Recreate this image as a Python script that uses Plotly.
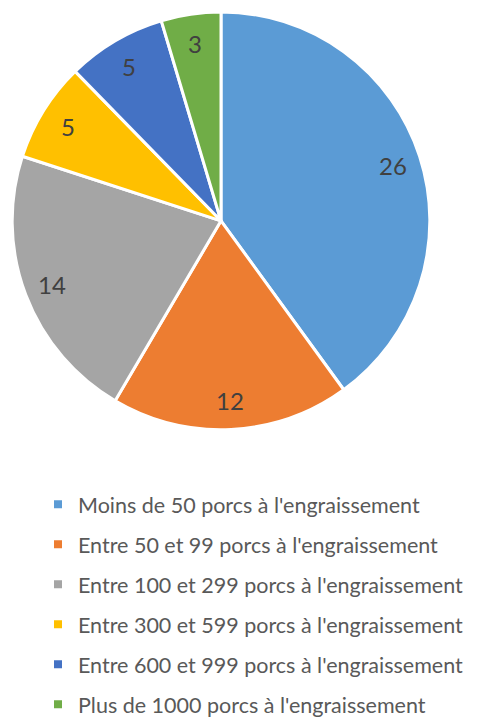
import math
import plotly.graph_objects as go

categories = [
    "Moins de 50 porcs à l'engraissement",
    "Entre 50 et 99 porcs à l'engraissement",
    "Entre 100 et 299 porcs à l'engraissement",
    "Entre 300 et 599 porcs à l'engraissement",
    "Entre 600 et 999 porcs à l'engraissement",
    "Plus de 1000 porcs à l'engraissement",
]
values = [26, 12, 14, 5, 5, 3]
colors = ["#5B9BD5", "#ED7D31", "#A5A5A5", "#FFC000", "#4472C4", "#70AD47"]

W, H = 478, 717
OFF = 8                  # the page body margin shifts the figure by 8px
FONT = "Lato"
LEG_SIZE = 21.5

# pie geometry in figure pixels
cx, cy, R = 221 - OFF, 222 - OFF, 210


def fx(px):
    return px / W


def fy(py):
    return 1 - py / H


fig = go.Figure()
fig.add_trace(go.Pie(
    labels=categories, values=values, sort=False, direction="clockwise", rotation=0,
    marker=dict(colors=colors, line=dict(color="white", width=3)),
    textinfo="none", hoverinfo="label+value", showlegend=False,
    domain=dict(x=[fx(cx - R), fx(cx + R)], y=[fy(cy + R), fy(cy - R)]),
))

# data labels along each slice's mid-angle
total = sum(values)
cum = 0
for v in values:
    mid = (cum + v / 2) / total * 2 * math.pi
    cum += v
    px = cx + 0.86 * R * math.sin(mid)
    py = cy - 0.86 * R * math.cos(mid)
    fig.add_annotation(x=fx(px), y=fy(py), xref="paper", yref="paper", text=str(v),
                       xanchor="center", yanchor="middle", showarrow=False,
                       font=dict(family=FONT, size=24, color="#404040"))

# legend entries (one group per category so the spacing can match)
for i, (c, col) in enumerate(zip(categories, colors)):
    fig.add_trace(go.Scatter(x=[None], y=[None], mode="markers", name=c + "\u00a0\u00a0",
                             marker=dict(symbol="square", size=8, color=col, line=dict(width=0)),
                             legendgroup=f"g{i}", showlegend=True, hoverinfo="skip"))

item_h = LEG_SIZE * 1.3 + 3
fig.update_layout(
    width=W, height=H, margin=dict(l=0, r=0, t=0, b=0),
    paper_bgcolor="white", plot_bgcolor="white",
    xaxis=dict(visible=False), yaxis=dict(visible=False),
    showlegend=True,
    legend=dict(x=fx(38 - OFF), xanchor="left", y=fy(507 - 5 - item_h / 2 - OFF), yanchor="top",
                traceorder="grouped", tracegroupgap=40 - item_h,
                font=dict(family=FONT, size=LEG_SIZE, color="#595959"),
                bgcolor="rgba(0,0,0,0)", itemclick=False, itemdoubleclick=False),
)
fig.write_html("out.html")
